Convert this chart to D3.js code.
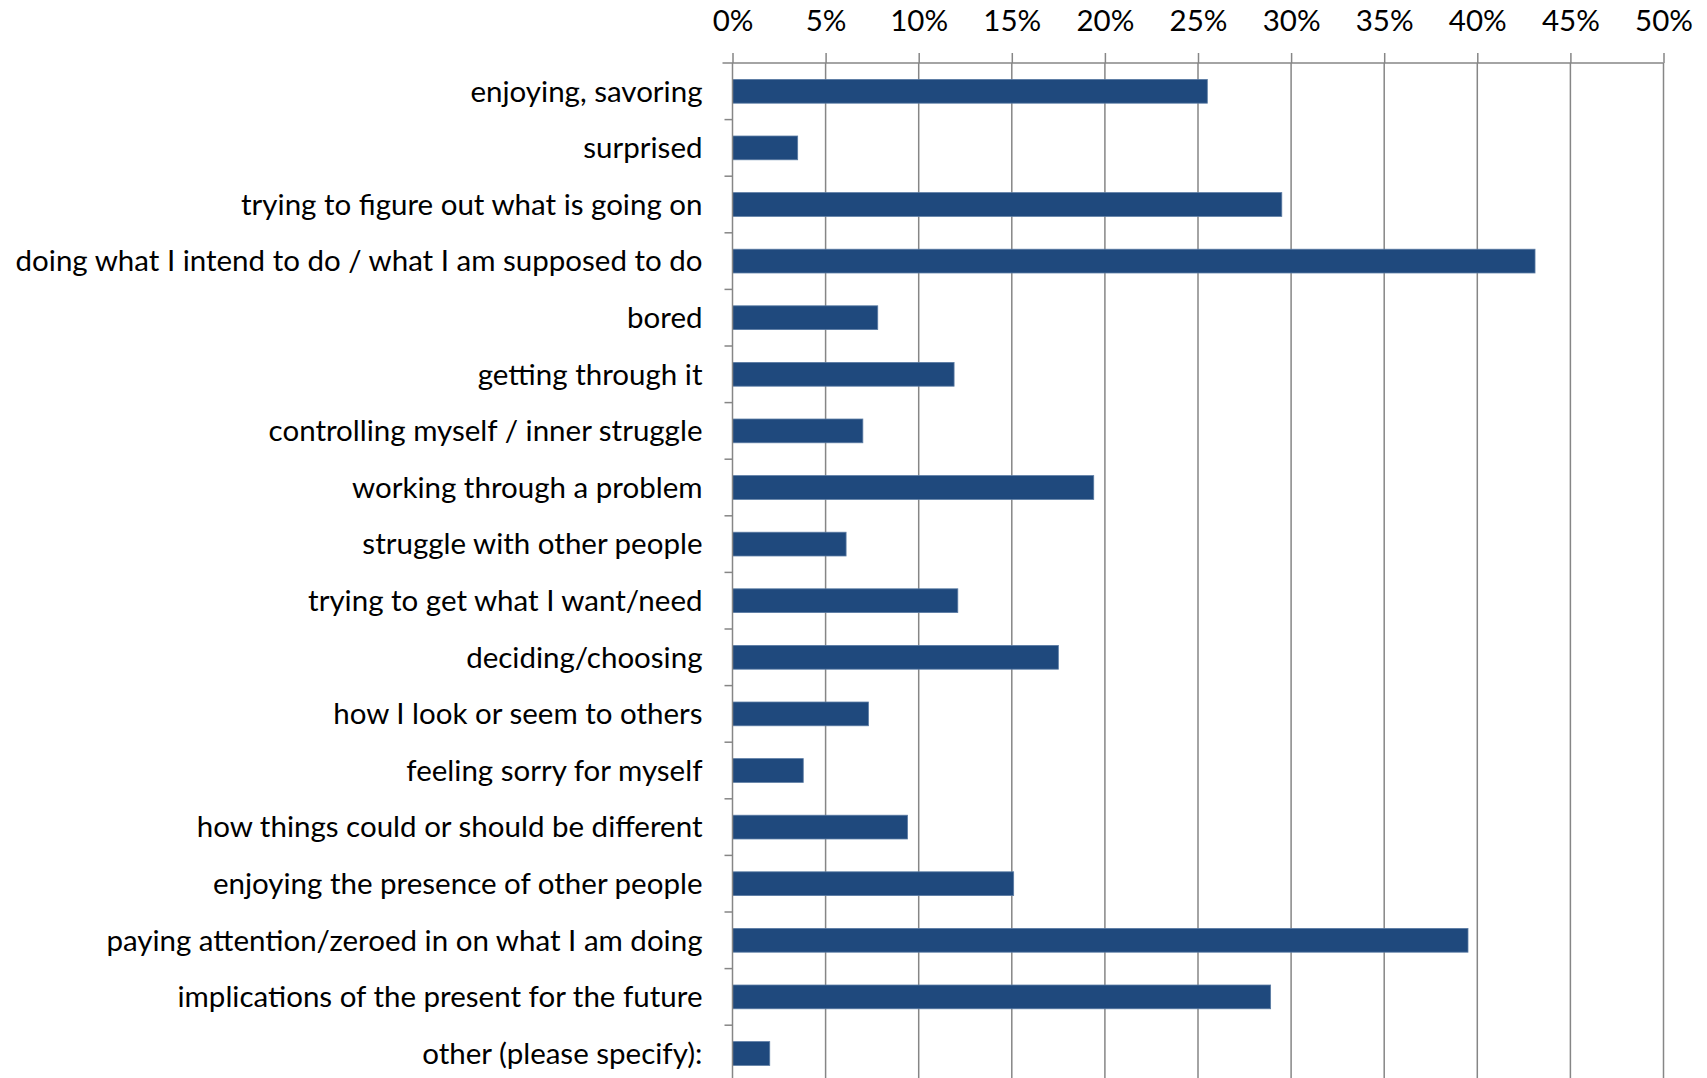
<!DOCTYPE html>
<html>
<head>
<meta charset="utf-8">
<script src="https://cdn.jsdelivr.net/npm/d3@7"></script>
<style>
  html, body { margin: 0; padding: 0; background: #fff; }
  svg { display: block; }
  text { font-family: Lato, "Open Sans", sans-serif; fill: #000; }
</style>
</head>
<body>
<svg id="chart" width="1707" height="1078"></svg>
<script>
const categories = [
  "enjoying, savoring",
  "surprised",
  "trying to figure out what is going on",
  "doing what I intend to do / what I am supposed to do",
  "bored",
  "getting through it",
  "controlling myself / inner struggle",
  "working through a problem",
  "struggle with other people",
  "trying to get what I want/need",
  "deciding/choosing",
  "how I look or seem to others",
  "feeling sorry for myself",
  "how things could or should be different",
  "enjoying the presence of other people",
  "paying attention/zeroed in on what I am doing",
  "implications of the present for the future",
  "other (please specify):"
];

const values = [
  0.255, 0.035, 0.295, 0.431, 0.078, 0.119, 0.070, 0.194, 0.061,
  0.121, 0.175, 0.073, 0.038, 0.094, 0.151, 0.395, 0.289, 0.020
];

const tickValues = [0, 0.05, 0.10, 0.15, 0.20, 0.25, 0.30, 0.35, 0.40, 0.45, 0.50];

const svg = d3.select("#chart");
const rowStep = 56.6;
const plot = { left: 732.5, right: 1663.5, top: 63 };
plot.bottom = plot.top + rowStep * categories.length;

const x = d3.scaleLinear().domain([0, 0.5]).range([plot.left, plot.right]);
const y = d3.scaleBand().domain(categories).range([plot.top, plot.bottom])
  .paddingInner(0.58).paddingOuter(0.29);

const gridColor = "#868686";
const fontSize = 29.5;

// vertical gridlines
svg.append("g").selectAll("line")
  .data(tickValues.slice(1))
  .join("line")
  .attr("x1", d => x(d)).attr("x2", d => x(d))
  .attr("y1", plot.top).attr("y2", plot.bottom)
  .attr("stroke", gridColor).attr("stroke-width", 1.5);

// bars
svg.append("g").selectAll("rect")
  .data(values)
  .join("rect")
  .attr("x", x(0))
  .attr("y", (d, i) => y(categories[i]))
  .attr("width", d => x(d) - x(0))
  .attr("height", y.bandwidth())
  .attr("fill", "#1F497D")
  .attr("stroke", "#5a7ba3")
  .attr("stroke-width", 0.8);

// top value axis
const xAxis = svg.append("g")
  .attr("transform", `translate(0,${plot.top})`)
  .call(d3.axisTop(x).tickValues(tickValues).tickFormat(d3.format(".0%"))
    .tickSize(10).tickSizeOuter(0).tickPadding(22));
xAxis.select(".domain").attr("stroke", gridColor).attr("stroke-width", 1.5)
  .attr("d", `M${plot.left - 10},0H${plot.right}`);
xAxis.selectAll(".tick line").attr("stroke", gridColor).attr("stroke-width", 1.5);
xAxis.selectAll(".tick text")
  .style("font-family", "Lato, 'Open Sans', sans-serif")
  .style("font-size", fontSize + "px")
  .attr("fill", "#000");

// left category axis: line, separators, labels
const cat = svg.append("g");
cat.append("line")
  .attr("x1", plot.left).attr("x2", plot.left).attr("y1", plot.top).attr("y2", plot.bottom)
  .attr("stroke", gridColor).attr("stroke-width", 1.5);

const step = y.step();
cat.selectAll("line.sep")
  .data(categories.slice(1))
  .join("line")
  .attr("class", "sep")
  .attr("x1", plot.left - 8).attr("x2", plot.left)
  .attr("y1", d => y(d) - step * 0.29)
  .attr("y2", d => y(d) - step * 0.29)
  .attr("stroke", gridColor).attr("stroke-width", 1.5);

cat.selectAll("text")
  .data(categories)
  .join("text")
  .attr("x", plot.left - 30)
  .attr("y", d => y(d) + y.bandwidth() / 2)
  .attr("dy", "0.35em")
  .attr("text-anchor", "end")
  .style("font-size", fontSize + "px")
  .text(d => d);
</script>
</body>
</html>
